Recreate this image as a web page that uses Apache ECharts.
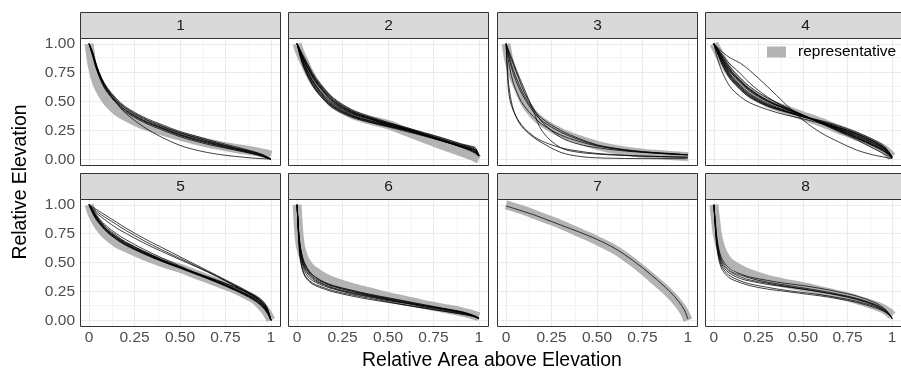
<!DOCTYPE html>
<html><head><meta charset="utf-8">
<script src="https://cdn.jsdelivr.net/npm/echarts@6/dist/echarts.min.js"></script>
<style>html,body{margin:0;padding:0;background:#fff}#c{width:901px;height:370px}</style>
</head><body><div id="c"></div>
<script>
// ---------- data ----------
const panelLabels = ['1','2','3','4','5','6','7','8'];
const X = [0, 0.01, 0.02, 0.04, 0.07, 0.1, 0.15, 0.2, 0.3, 0.4, 0.5, 0.6, 0.7, 0.8, 0.9, 0.95, 0.98, 1];
const tickValues = [0, 0.25, 0.5, 0.75, 1];
const minorValues = [0.125, 0.375, 0.625, 0.875];
const xTickLabels = ['0','0.25','0.50','0.75','1'];
const yTickLabels = ['0.00','0.25','0.50','0.75','1.00'];
const legendLabel = 'representative';
const xTitle = 'Relative Area above Elevation';
const yTitle = 'Relative Elevation';

const rep1 = [1, 0.88, 0.79, 0.67, 0.57, 0.50, 0.42, 0.37, 0.295, 0.245, 0.20, 0.16, 0.125, 0.095, 0.07, 0.055, 0.045, 0.035];
const basins1 = [
  [1, 0.96, 0.92, 0.81, 0.69, 0.61, 0.515, 0.445, 0.355, 0.29, 0.23, 0.185, 0.14, 0.10, 0.065, 0.04, 0.018, 0],
  [1, 0.95, 0.90, 0.79, 0.67, 0.585, 0.49, 0.42, 0.33, 0.265, 0.205, 0.16, 0.12, 0.085, 0.05, 0.028, 0.011, 0],
  [1, 0.965, 0.925, 0.82, 0.70, 0.62, 0.525, 0.455, 0.365, 0.30, 0.24, 0.195, 0.15, 0.11, 0.068, 0.043, 0.02, 0],
  [1, 0.955, 0.91, 0.80, 0.68, 0.595, 0.50, 0.43, 0.34, 0.275, 0.215, 0.17, 0.13, 0.093, 0.057, 0.033, 0.014, 0],
  [1, 0.945, 0.89, 0.78, 0.66, 0.575, 0.48, 0.41, 0.32, 0.255, 0.195, 0.15, 0.112, 0.08, 0.047, 0.026, 0.01, 0],
  [1, 0.96, 0.92, 0.81, 0.69, 0.60, 0.49, 0.40, 0.28, 0.19, 0.12, 0.075, 0.045, 0.025, 0.01, 0.005, 0.002, 0],
  [1, 0.96, 0.915, 0.81, 0.69, 0.605, 0.51, 0.44, 0.35, 0.285, 0.225, 0.18, 0.137, 0.098, 0.06, 0.037, 0.016, 0],
  [1, 0.95, 0.905, 0.79, 0.675, 0.59, 0.495, 0.425, 0.335, 0.27, 0.21, 0.165, 0.125, 0.088, 0.052, 0.03, 0.012, 0]
];

const rep2 = [1, 0.95, 0.91, 0.84, 0.74, 0.66, 0.56, 0.48, 0.39, 0.34, 0.30, 0.24, 0.18, 0.12, 0.065, 0.035, 0.015, 0.0];
const basins2 = [
  [1, 0.96, 0.92, 0.85, 0.76, 0.68, 0.58, 0.50, 0.41, 0.355, 0.31, 0.265, 0.22, 0.17, 0.12, 0.10, 0.08, 0.03],
  [1, 0.95, 0.90, 0.82, 0.72, 0.64, 0.54, 0.47, 0.385, 0.335, 0.295, 0.255, 0.21, 0.165, 0.115, 0.095, 0.075, 0.03],
  [1, 0.97, 0.93, 0.87, 0.78, 0.70, 0.60, 0.52, 0.42, 0.36, 0.31, 0.26, 0.21, 0.16, 0.11, 0.08, 0.06, 0.03],
  [1, 0.94, 0.89, 0.80, 0.70, 0.62, 0.52, 0.45, 0.37, 0.32, 0.28, 0.24, 0.20, 0.155, 0.11, 0.09, 0.07, 0.03],
  [1, 0.96, 0.92, 0.86, 0.77, 0.69, 0.59, 0.51, 0.415, 0.36, 0.315, 0.275, 0.23, 0.185, 0.135, 0.115, 0.10, 0.03],
  [1, 0.95, 0.91, 0.83, 0.73, 0.65, 0.55, 0.48, 0.395, 0.345, 0.30, 0.26, 0.215, 0.17, 0.125, 0.11, 0.095, 0.035],
  [1, 0.93, 0.87, 0.78, 0.68, 0.60, 0.51, 0.44, 0.365, 0.32, 0.285, 0.25, 0.205, 0.16, 0.11, 0.085, 0.06, 0.03],
  [1, 0.97, 0.94, 0.88, 0.79, 0.71, 0.61, 0.53, 0.43, 0.37, 0.32, 0.27, 0.22, 0.17, 0.115, 0.085, 0.06, 0.03],
  [1, 0.955, 0.915, 0.845, 0.75, 0.67, 0.57, 0.49, 0.40, 0.35, 0.305, 0.265, 0.225, 0.18, 0.13, 0.105, 0.085, 0.03],
  [1, 0.945, 0.895, 0.815, 0.715, 0.635, 0.535, 0.46, 0.38, 0.33, 0.29, 0.25, 0.205, 0.16, 0.11, 0.085, 0.065, 0.03],
  [1, 0.96, 0.925, 0.855, 0.76, 0.68, 0.58, 0.50, 0.405, 0.35, 0.30, 0.255, 0.21, 0.16, 0.105, 0.075, 0.05, 0.025],
  [1, 0.94, 0.88, 0.79, 0.69, 0.61, 0.52, 0.455, 0.375, 0.33, 0.29, 0.25, 0.205, 0.16, 0.115, 0.095, 0.08, 0.03]
];

const rep3 = [1, 0.90, 0.83, 0.72, 0.61, 0.50, 0.39, 0.32, 0.23, 0.17, 0.12, 0.085, 0.06, 0.045, 0.032, 0.027, 0.025, 0.022];
const basins3 = [
  [1, 0.96, 0.92, 0.84, 0.72, 0.61, 0.42, 0.24, 0.10, 0.06, 0.045, 0.035, 0.03, 0.025, 0.022, 0.02, 0.02, 0.02],
  [1, 0.95, 0.90, 0.82, 0.70, 0.58, 0.44, 0.32, 0.19, 0.13, 0.10, 0.08, 0.065, 0.055, 0.045, 0.04, 0.04, 0.04],
  [1, 0.66, 0.52, 0.42, 0.33, 0.27, 0.20, 0.155, 0.10, 0.07, 0.05, 0.04, 0.03, 0.025, 0.02, 0.018, 0.016, 0.015],
  [1, 0.72, 0.58, 0.43, 0.32, 0.26, 0.19, 0.14, 0.06, 0.025, 0.012, 0.008, 0.006, 0.005, 0.005, 0.005, 0.005, 0.005],
  [1, 0.93, 0.87, 0.77, 0.65, 0.55, 0.43, 0.35, 0.25, 0.18, 0.125, 0.095, 0.075, 0.06, 0.05, 0.045, 0.04, 0.04],
  [1, 0.92, 0.85, 0.74, 0.62, 0.53, 0.41, 0.33, 0.235, 0.17, 0.12, 0.09, 0.07, 0.055, 0.045, 0.04, 0.038, 0.035],
  [1, 0.88, 0.79, 0.66, 0.54, 0.46, 0.37, 0.30, 0.21, 0.155, 0.115, 0.09, 0.07, 0.058, 0.048, 0.044, 0.04, 0.04]
];

const rep4 = [1, 0.97, 0.94, 0.88, 0.80, 0.73, 0.65, 0.58, 0.49, 0.43, 0.375, 0.32, 0.26, 0.20, 0.13, 0.09, 0.05, 0.02];
const basins4 = [
  [1, 0.985, 0.97, 0.94, 0.90, 0.87, 0.83, 0.77, 0.63, 0.48, 0.34, 0.23, 0.15, 0.08, 0.035, 0.02, 0.01, 0.005],
  [1, 0.98, 0.96, 0.92, 0.86, 0.81, 0.74, 0.66, 0.54, 0.45, 0.38, 0.31, 0.24, 0.17, 0.09, 0.05, 0.025, 0.01],
  [1, 0.93, 0.87, 0.78, 0.68, 0.61, 0.54, 0.49, 0.43, 0.385, 0.35, 0.31, 0.27, 0.22, 0.15, 0.10, 0.05, 0.01],
  [1, 0.98, 0.95, 0.90, 0.83, 0.76, 0.68, 0.61, 0.51, 0.44, 0.38, 0.32, 0.255, 0.19, 0.12, 0.08, 0.045, 0.01],
  [1, 0.97, 0.93, 0.87, 0.78, 0.71, 0.63, 0.56, 0.475, 0.42, 0.37, 0.325, 0.27, 0.21, 0.14, 0.10, 0.06, 0.02],
  [1, 0.98, 0.96, 0.91, 0.84, 0.78, 0.70, 0.63, 0.53, 0.455, 0.385, 0.315, 0.245, 0.18, 0.11, 0.07, 0.04, 0.01],
  [1, 0.96, 0.92, 0.85, 0.76, 0.69, 0.61, 0.545, 0.465, 0.415, 0.37, 0.33, 0.28, 0.225, 0.155, 0.11, 0.065, 0.02],
  [1, 0.97, 0.94, 0.88, 0.80, 0.74, 0.66, 0.59, 0.50, 0.435, 0.375, 0.32, 0.26, 0.20, 0.13, 0.09, 0.05, 0.015],
  [1, 0.975, 0.95, 0.89, 0.81, 0.745, 0.67, 0.60, 0.505, 0.44, 0.38, 0.32, 0.255, 0.19, 0.12, 0.08, 0.04, 0.01],
  [1, 0.965, 0.93, 0.86, 0.77, 0.70, 0.62, 0.55, 0.47, 0.415, 0.365, 0.325, 0.275, 0.22, 0.15, 0.105, 0.06, 0.02],
  [1, 0.98, 0.955, 0.90, 0.82, 0.755, 0.675, 0.605, 0.51, 0.445, 0.38, 0.315, 0.25, 0.185, 0.115, 0.075, 0.04, 0.01],
  [1, 0.97, 0.935, 0.87, 0.79, 0.72, 0.64, 0.57, 0.485, 0.425, 0.37, 0.32, 0.265, 0.205, 0.135, 0.095, 0.055, 0.015],
  [1, 0.96, 0.92, 0.84, 0.75, 0.68, 0.60, 0.535, 0.46, 0.41, 0.37, 0.335, 0.29, 0.235, 0.165, 0.12, 0.07, 0.02]
];

const rep5 = [1, 0.95, 0.91, 0.85, 0.78, 0.73, 0.67, 0.63, 0.56, 0.50, 0.45, 0.39, 0.33, 0.27, 0.19, 0.12, 0.06, 0.0];
const basins5 = [
  [1, 0.99, 0.98, 0.96, 0.93, 0.90, 0.85, 0.80, 0.71, 0.63, 0.55, 0.47, 0.39, 0.31, 0.22, 0.16, 0.09, 0.0],
  [1, 0.985, 0.97, 0.945, 0.91, 0.88, 0.83, 0.78, 0.69, 0.61, 0.535, 0.46, 0.385, 0.30, 0.21, 0.15, 0.08, 0.0],
  [1, 0.98, 0.96, 0.93, 0.89, 0.855, 0.80, 0.755, 0.67, 0.595, 0.525, 0.455, 0.38, 0.30, 0.215, 0.155, 0.09, 0.0],
  [1, 0.97, 0.94, 0.89, 0.83, 0.78, 0.72, 0.67, 0.59, 0.52, 0.46, 0.40, 0.34, 0.27, 0.19, 0.13, 0.07, 0.0],
  [1, 0.965, 0.93, 0.875, 0.815, 0.765, 0.705, 0.655, 0.58, 0.515, 0.455, 0.395, 0.335, 0.27, 0.20, 0.145, 0.08, 0.0],
  [1, 0.975, 0.95, 0.90, 0.845, 0.795, 0.735, 0.68, 0.60, 0.525, 0.46, 0.395, 0.33, 0.26, 0.18, 0.12, 0.06, 0.0],
  [1, 0.96, 0.925, 0.87, 0.81, 0.76, 0.70, 0.65, 0.575, 0.51, 0.455, 0.40, 0.345, 0.285, 0.215, 0.165, 0.10, 0.0],
  [1, 0.97, 0.94, 0.885, 0.825, 0.775, 0.715, 0.66, 0.58, 0.51, 0.45, 0.39, 0.33, 0.265, 0.19, 0.135, 0.075, 0.0],
  [1, 0.98, 0.955, 0.91, 0.855, 0.81, 0.75, 0.70, 0.615, 0.54, 0.47, 0.40, 0.335, 0.265, 0.185, 0.125, 0.065, 0.0],
  [1, 0.965, 0.935, 0.88, 0.82, 0.77, 0.71, 0.66, 0.585, 0.52, 0.46, 0.405, 0.35, 0.29, 0.225, 0.175, 0.11, 0.0],
  [1, 0.97, 0.945, 0.895, 0.835, 0.785, 0.725, 0.675, 0.595, 0.525, 0.46, 0.40, 0.34, 0.275, 0.20, 0.14, 0.075, 0.0]
];

const rep6 = [1, 0.75, 0.63, 0.53, 0.46, 0.42, 0.37, 0.335, 0.285, 0.245, 0.205, 0.17, 0.135, 0.105, 0.075, 0.055, 0.04, 0.03];
const basins6 = [
  [1, 0.72, 0.58, 0.46, 0.39, 0.35, 0.31, 0.28, 0.24, 0.21, 0.18, 0.15, 0.12, 0.095, 0.065, 0.045, 0.03, 0.015],
  [1, 0.70, 0.55, 0.43, 0.36, 0.33, 0.295, 0.27, 0.23, 0.20, 0.17, 0.145, 0.115, 0.09, 0.06, 0.045, 0.03, 0.015],
  [1, 0.75, 0.62, 0.50, 0.42, 0.375, 0.33, 0.30, 0.26, 0.225, 0.195, 0.165, 0.135, 0.105, 0.075, 0.05, 0.035, 0.02],
  [1, 0.68, 0.52, 0.40, 0.34, 0.31, 0.28, 0.255, 0.22, 0.19, 0.16, 0.13, 0.105, 0.08, 0.055, 0.04, 0.03, 0.015],
  [1, 0.73, 0.60, 0.48, 0.40, 0.36, 0.32, 0.29, 0.25, 0.215, 0.185, 0.155, 0.125, 0.10, 0.07, 0.05, 0.035, 0.02],
  [1, 0.71, 0.57, 0.45, 0.38, 0.34, 0.305, 0.275, 0.235, 0.205, 0.175, 0.15, 0.125, 0.10, 0.075, 0.055, 0.035, 0.015],
  [1, 0.74, 0.61, 0.49, 0.41, 0.37, 0.325, 0.295, 0.255, 0.22, 0.19, 0.16, 0.13, 0.10, 0.07, 0.05, 0.03, 0.015],
  [1, 0.66, 0.50, 0.39, 0.33, 0.30, 0.27, 0.245, 0.21, 0.18, 0.155, 0.13, 0.105, 0.08, 0.055, 0.04, 0.025, 0.01]
];

const rep7 = [1, 0.995, 0.99, 0.98, 0.965, 0.95, 0.92, 0.89, 0.83, 0.76, 0.69, 0.61, 0.50, 0.37, 0.23, 0.14, 0.07, 0.0];
const basins7 = [
  [0.99, 0.985, 0.98, 0.97, 0.955, 0.94, 0.915, 0.885, 0.825, 0.765, 0.70, 0.62, 0.515, 0.39, 0.25, 0.16, 0.09, 0.01]
];

const rep8 = [1, 0.86, 0.74, 0.62, 0.53, 0.485, 0.44, 0.405, 0.355, 0.32, 0.29, 0.255, 0.22, 0.18, 0.13, 0.10, 0.07, 0.04];
const basins8 = [
  [1, 0.80, 0.66, 0.53, 0.46, 0.42, 0.39, 0.365, 0.33, 0.305, 0.28, 0.255, 0.225, 0.19, 0.14, 0.10, 0.06, 0.015],
  [1, 0.78, 0.63, 0.50, 0.43, 0.395, 0.36, 0.34, 0.31, 0.29, 0.27, 0.245, 0.215, 0.18, 0.13, 0.09, 0.055, 0.015],
  [1, 0.75, 0.59, 0.46, 0.39, 0.355, 0.325, 0.30, 0.27, 0.25, 0.23, 0.21, 0.185, 0.155, 0.11, 0.08, 0.05, 0.015],
  [1, 0.77, 0.61, 0.48, 0.41, 0.375, 0.34, 0.315, 0.285, 0.26, 0.24, 0.22, 0.195, 0.165, 0.12, 0.085, 0.05, 0.015],
  [1, 0.82, 0.68, 0.55, 0.475, 0.435, 0.40, 0.375, 0.345, 0.32, 0.30, 0.275, 0.245, 0.21, 0.155, 0.11, 0.065, 0.015],
  [1, 0.79, 0.645, 0.515, 0.445, 0.41, 0.375, 0.35, 0.32, 0.295, 0.27, 0.245, 0.22, 0.185, 0.135, 0.095, 0.06, 0.015]
];

const reps = [rep1, rep2, rep3, rep4, rep5, rep6, rep7, rep8];
const basins = [basins1, basins2, basins3, basins4, basins5, basins6, basins7, basins8];

// ---------- layout / style ----------
const FONT = 'Liberation Sans, Arial, sans-serif';
const PANEL_LEFT = [80, 288, 497, 705];
const PANEL_W = 200;
const ROW_TOP = [38, 199];
const PANEL_H = 127;
const STRIP_H = 26;
const REP_COLOR = '#b3b3b3';
const SMOOTH = 0.35;

const chart = echarts.init(document.getElementById('c'), null, {renderer: 'canvas'});

const grids = [], xAxes = [], yAxes = [], series = [], graphics = [];
const fmt = (labels) => (v) => { const i = tickValues.findIndex(t => Math.abs(t - v) < 1e-9); return i >= 0 ? labels[i] : ''; };

const gridLineData = [];
tickValues.forEach(v => { gridLineData.push({xAxis: v, lineStyle: {width: 1.1}}); gridLineData.push({yAxis: v, lineStyle: {width: 1.1}}); });
minorValues.forEach(v => { gridLineData.push({xAxis: v, lineStyle: {width: 0.55}}); gridLineData.push({yAxis: v, lineStyle: {width: 0.55}}); });

for (let p = 0; p < 8; p++) {
  const col = p % 4, row = Math.floor(p / 4);
  const left = PANEL_LEFT[col], top = ROW_TOP[row];
  grids.push({left: left, top: top, width: PANEL_W, height: PANEL_H, show: false, containLabel: false});
  xAxes.push({
    gridIndex: p, type: 'value', min: -0.05, max: 1.05,
    axisLine: {show: false}, splitLine: {show: false},
    axisTick: {show: row === 1, customValues: tickValues, length: 3, lineStyle: {color: '#333333', width: 1}},
    axisLabel: {show: row === 1, customValues: tickValues, formatter: fmt(xTickLabels), margin: 4,
      fontSize: 15.5, color: '#4d4d4d', fontFamily: FONT}
  });
  yAxes.push({
    gridIndex: p, type: 'value', min: -0.05, max: 1.05,
    axisLine: {show: false}, splitLine: {show: false},
    axisTick: {show: col === 0, customValues: tickValues, length: 3, lineStyle: {color: '#333333', width: 1}},
    axisLabel: {show: col === 0, customValues: tickValues, formatter: fmt(yTickLabels), margin: 5,
      fontSize: 15.5, color: '#4d4d4d', fontFamily: FONT}
  });
  series.push({
    name: legendLabel, type: 'line', xAxisIndex: p, yAxisIndex: p, z: 2,
    data: X.map((x, i) => [x, reps[p][i]]),
    showSymbol: false, symbol: 'none', smooth: SMOOTH, silent: true,
    color: REP_COLOR, itemStyle: {color: REP_COLOR},
    lineStyle: {color: REP_COLOR, width: 9, cap: 'butt', join: 'round'},
    markLine: {z: 1, silent: true, symbol: ['none', 'none'], label: {show: false}, animation: false,
      lineStyle: {color: '#ebebeb', type: 'solid'}, emphasis: {disabled: true}, data: gridLineData}
  });
  basins[p].forEach((b, k) => {
    series.push({
      name: 'basin' + p + '_' + k, type: 'line', xAxisIndex: p, yAxisIndex: p, z: 3,
      data: X.map((x, i) => [x, b[i]]),
      showSymbol: false, symbol: 'none', smooth: SMOOTH, silent: true,
      lineStyle: {color: '#000000', width: 0.75, join: 'round'}
    });
  });
  graphics.push({type: 'rect', z: 100, silent: true,
    shape: {x: left + 0.5, y: top + 0.5, width: PANEL_W, height: PANEL_H},
    style: {fill: 'none', stroke: '#333333', lineWidth: 1}});
  graphics.push({type: 'rect', z: 100, silent: true,
    shape: {x: left + 0.5, y: top - STRIP_H + 0.5, width: PANEL_W, height: STRIP_H},
    style: {fill: '#d9d9d9', stroke: '#333333', lineWidth: 1}});
  graphics.push({type: 'text', z: 101, silent: true,
    x: left + PANEL_W / 2 + 0.5, y: top - STRIP_H / 2 + 0.5,
    style: {text: panelLabels[p], fontSize: 15.5, fontFamily: FONT, fill: '#1a1a1a', align: 'center', verticalAlign: 'middle'}});
}

graphics.push({type: 'text', z: 101, silent: true, x: 492, y: 361,
  style: {text: xTitle, fontSize: 19.4, fontFamily: FONT, fill: '#000000', align: 'center', verticalAlign: 'middle'}});
graphics.push({type: 'text', z: 101, silent: true, x: 21, y: 182, rotation: Math.PI / 2,
  style: {text: yTitle, fontSize: 19.4, fontFamily: FONT, fill: '#000000', align: 'center', verticalAlign: 'middle'}});

chart.setOption({
  animation: false,
  backgroundColor: '#ffffff',
  grid: grids, xAxis: xAxes, yAxis: yAxes, series: series,
  legend: {data: [legendLabel], left: 767, top: 44, padding: 0, icon: 'rect', itemWidth: 19, itemHeight: 11,
    selectedMode: false, itemStyle: {color: REP_COLOR},
    textStyle: {fontSize: 15.5, fontFamily: FONT, color: '#000000', padding: [0, 0, 0, 7]}},
  graphic: {elements: graphics}
});
</script></body></html>
